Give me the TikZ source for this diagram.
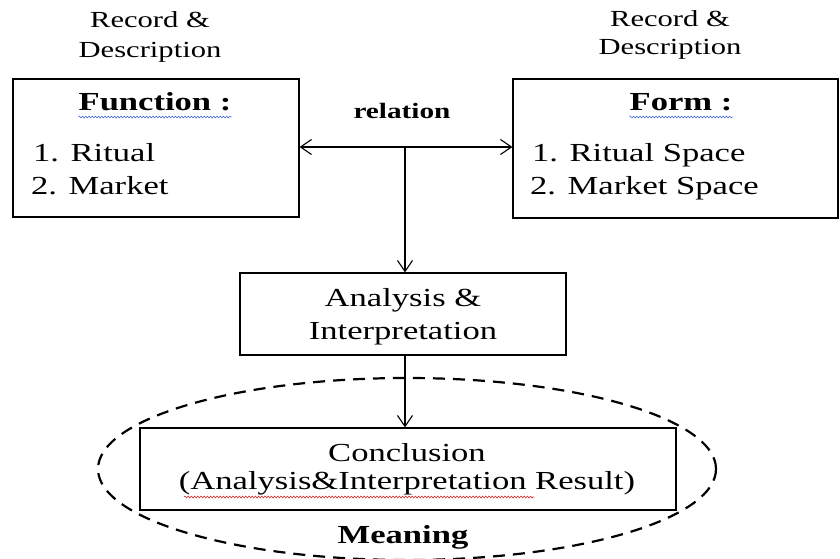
\documentclass[tikz,border=0pt]{standalone}
\usepackage{fontspec}
\setmainfont[FakeStretch=1.33]{Liberation Serif}
\usetikzlibrary{arrows.meta,decorations.pathmorphing,shapes.geometric}
\definecolor{spellblue}{RGB}{70,110,220}
\definecolor{spellred}{RGB}{220,40,40}
\begin{document}
\begin{tikzpicture}[x=1pt,y=-1pt,
  boxshape/.style={draw, line width=1.1pt, inner sep=0pt},
  txt/.style={font=\fontsize{26}{33}\selectfont, inner sep=0pt},
  btxt/.style={font=\fontsize{26}{33}\selectfont\bfseries, inner sep=0pt},
  small/.style={font=\fontsize{23}{29}\selectfont, inner sep=0pt},
  conn/.style={line width=1.1pt, -{Straight Barb[length=11pt,width=15pt]}},
  squig/.style={line width=0.6pt, decorate, decoration={snake, amplitude=0.9pt, segment length=3.2pt}}
]
\useasboundingbox (0,0) rectangle (840,559);
% boxes
\node[boxshape, minimum width=286, minimum height=138] (fbox) at (156,148) {};
\node[boxshape, minimum width=325, minimum height=139] (mbox) at (675.5,148.5) {};
\node[boxshape, minimum width=326, minimum height=82] (ana) at (403,314) {};
\node[boxshape, minimum width=536, minimum height=82] (conc) at (408,469) {};
\node[draw, ellipse, dash pattern=on 12pt off 8pt, line width=2.2pt, minimum width=618, minimum height=182, inner sep=0pt] (mean) at (407,469) {};
% top labels
\node[small, anchor=base] (rl1) at (150,28) {Record \&};
\node[small, anchor=base] (rl2) at (150,58) {Description};
\node[small, anchor=base] (rr1) at (670,27) {Record \&};
\node[small, anchor=base] (rr2) at (670,55) {Description};
% left box text
\node[btxt, anchor=base] (fn) at (155,111) {Function :};
\node[txt, anchor=base west] (f1) at (33,161) {1. Ritual};
\node[txt, anchor=base west] (f2) at (31,194) {2. Market};
% right box text
\node[btxt, anchor=base] (fm) at (681,111) {Form :};
\node[txt, anchor=base west] (m1) at (532,161) {1. Ritual Space};
\node[txt, anchor=base west] (m2) at (530,194) {2. Market Space};
% relation
\node[font=\fontsize{22}{26}\selectfont\bfseries, inner sep=0pt, anchor=base] (rel) at (402,118) {relation};
% analysis text
\node[txt, anchor=base] (a1) at (403,306) {Analysis \&};
\node[txt, anchor=base] (a2) at (403,339) {Interpretation};
% conclusion text
\node[txt, anchor=base] (c1) at (407,461) {Conclusion};
\node[txt, anchor=base] (c2) at (407,489) {(Analysis\&Interpretation Result)};
\node[btxt, anchor=base] (mn) at (403,543) {Meaning};
% connectors
\coordinate (j) at (405,147);
\draw[conn] (j) -- (fbox.east |- j);
\draw[conn] (j) -- (mbox.west |- j);
\draw[conn] (j) -- (j |- ana.north);
\draw[conn] (ana.south -| j) -- (conc.north -| j);
% spell-check squiggles
\draw[squig, spellblue] ([yshift=-6pt]fn.base west) -- ([yshift=-6pt]fn.base east);
\draw[squig, spellblue] ([yshift=-6pt]fm.base west) -- ([yshift=-6pt]fm.base east);
\coordinate (sq1) at (184,497);
\coordinate (sq2) at (534,497);
\draw[squig, spellred] (sq1) -- (sq2);
\end{tikzpicture}
\end{document}
